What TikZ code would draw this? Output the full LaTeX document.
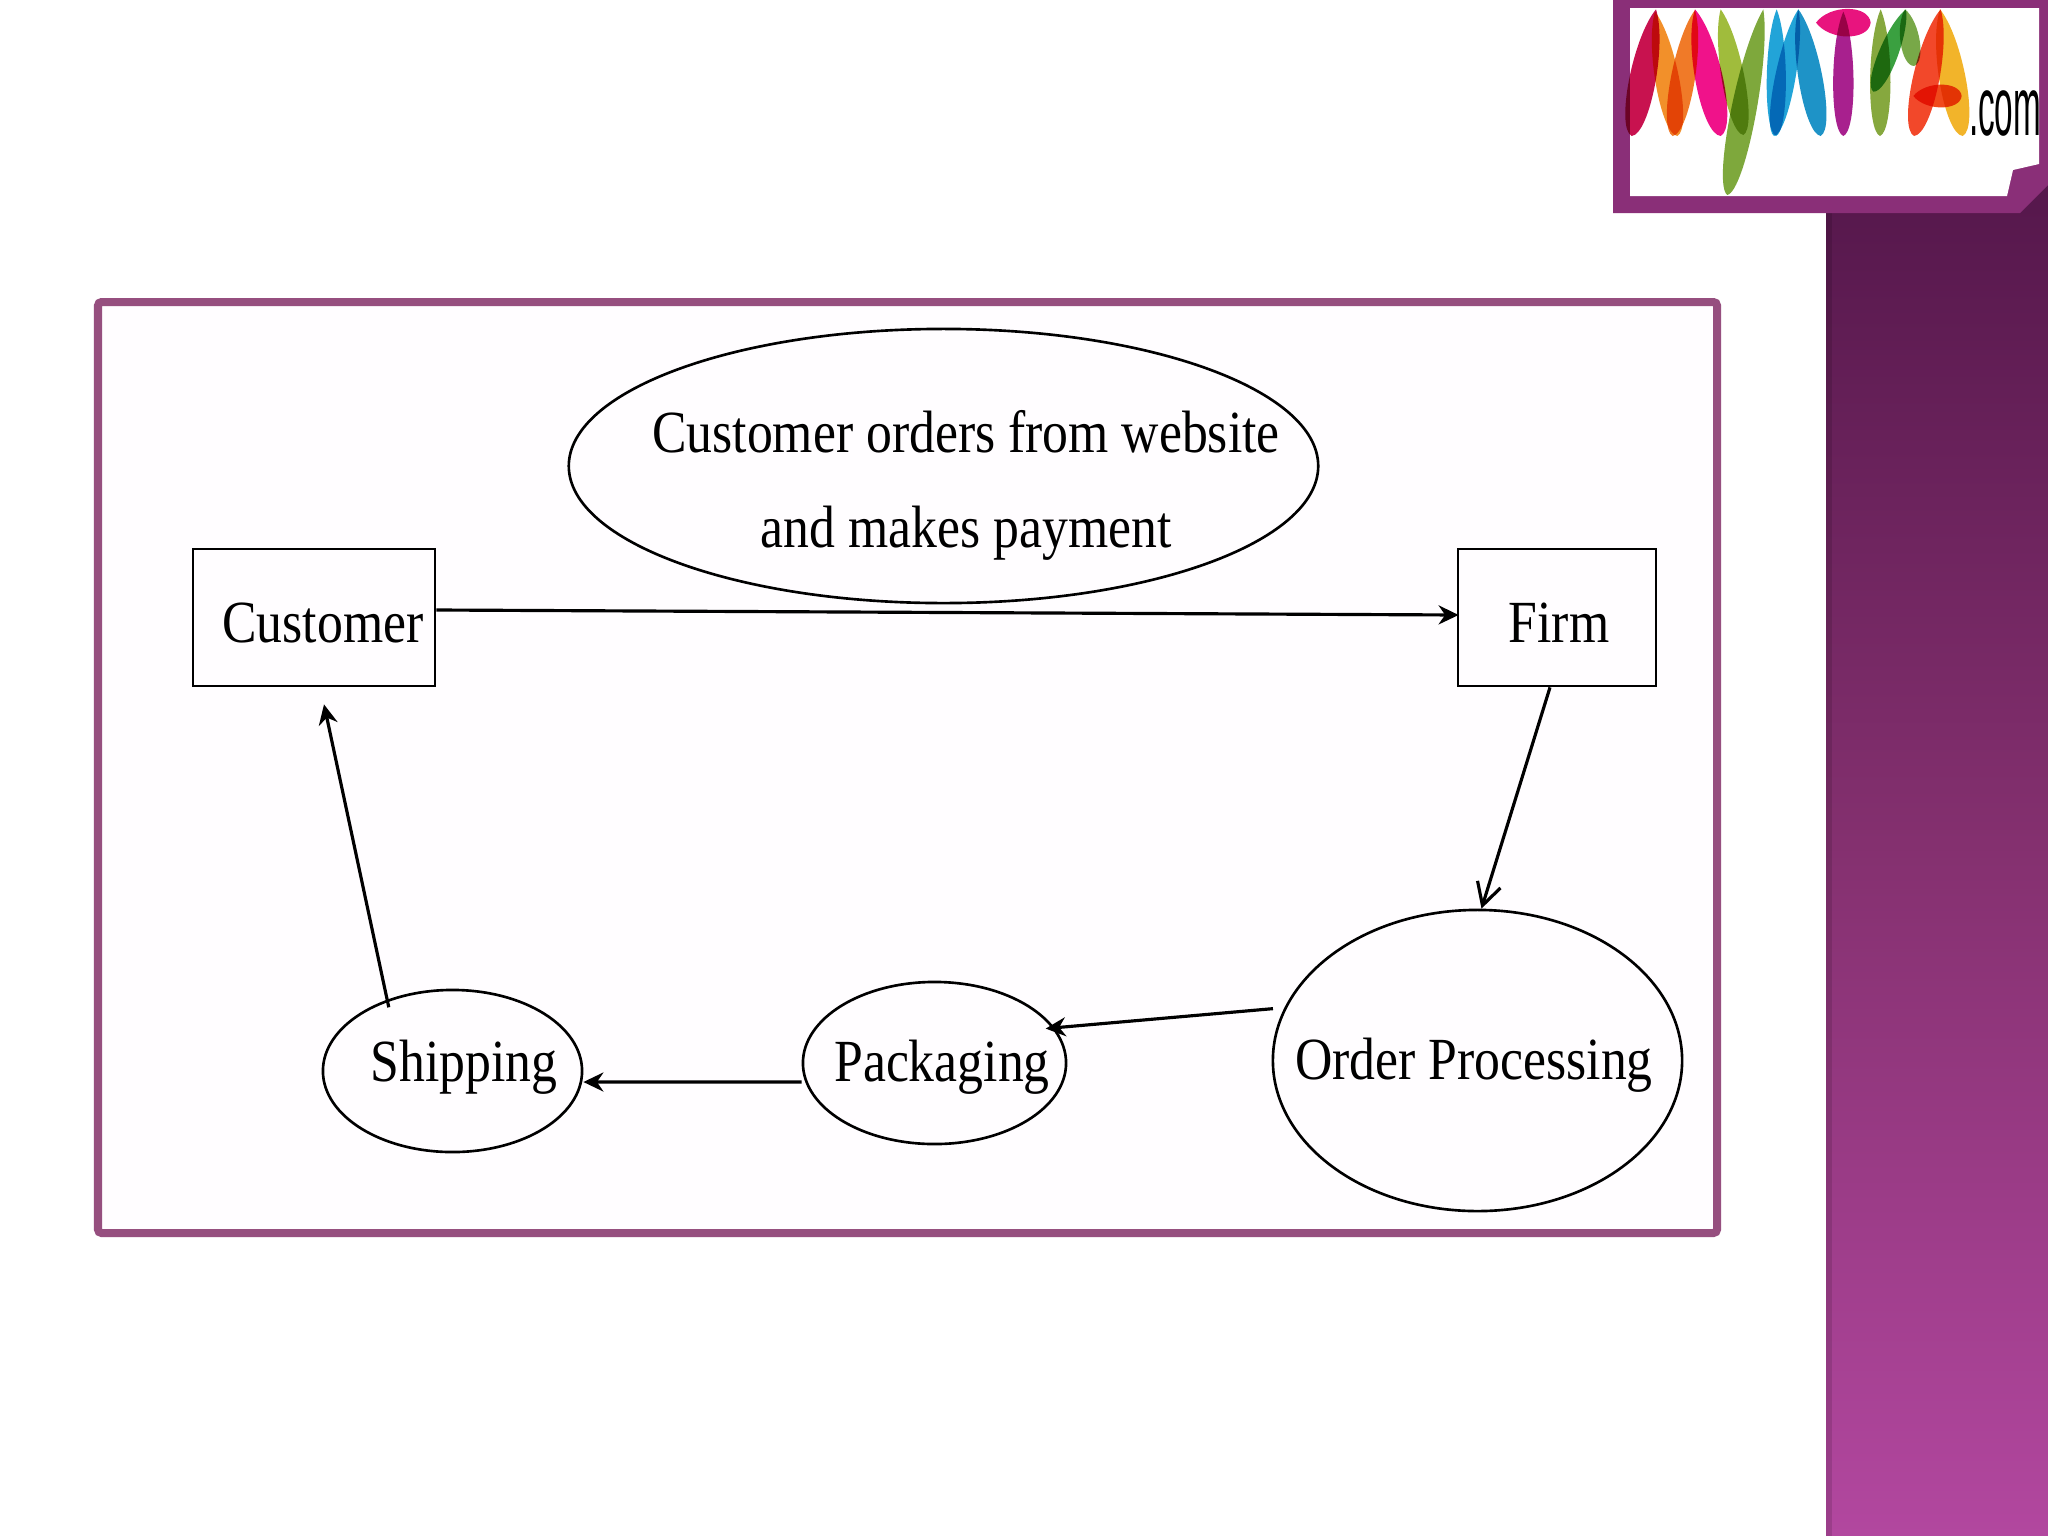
\documentclass[tikz,border=0pt]{standalone}
\usepackage{fontspec}
\setmainfont[FakeStretch=0.865]{Liberation Serif}
\newfontfamily\logofont{Liberation Sans}
\usetikzlibrary{shapes.geometric,arrows.meta,calc}
\definecolor{framec}{HTML}{964F7F}
\definecolor{logoframe}{HTML}{8A2F78}
\definecolor{sidetop}{HTML}{53164A}
\definecolor{sidemid}{HTML}{84306F}
\definecolor{sidebot}{HTML}{B2479F}
\definecolor{panel}{HTML}{FFFDFF}
\definecolor{lcrim}{HTML}{C8124F}
\definecolor{lorange}{HTML}{F2902A}
\definecolor{lorangeb}{HTML}{F07A28}
\definecolor{lmag}{HTML}{F0128A}
\definecolor{lgreena}{HTML}{A0BC3C}
\definecolor{lgreenb}{HTML}{7EA83C}
\definecolor{lblue}{HTML}{22A4D8}
\definecolor{lblueb}{HTML}{1C8CC0}
\definecolor{lpink}{HTML}{E8147E}
\definecolor{lpurple}{HTML}{A8208E}
\definecolor{lgreenc}{HTML}{86A83E}
\definecolor{lgreend}{HTML}{3AA040}
\definecolor{lgreene}{HTML}{78A848}
\definecolor{lred}{HTML}{F2482A}
\definecolor{lyel}{HTML}{F2B42A}
\definecolor{lbar}{HTML}{F04A1C}
\newcommand{\petal}[6]{%
  \pgfmathsetmacro{\pmx}{(#1+#3)/2}\pgfmathsetmacro{\pmy}{(#2+#4)/2}%
  \pgfmathsetmacro{\pang}{atan2(-(#4-#2),#3-#1)}%
  \pgfmathsetmacro{\plen}{veclen(#3-#1,#4-#2)/2}%
  \pgfmathsetmacro{\pwid}{1.2*#5}%
  \begin{scope}[shift={(\pmx,\pmy)},rotate=\pang]
    \fill[#6,blend mode=multiply] (-\plen,0)
      .. controls (-0.5*\plen,\pwid) and (0.92*\plen,\pwid) .. (\plen,0)
      .. controls (0.92*\plen,-\pwid) and (-0.5*\plen,-\pwid) .. cycle;
  \end{scope}}
\tikzset{
  shapeline/.style={draw=black,line width=0.75pt,fill=panel,inner sep=0pt},
  boxnode/.style={shapeline,rectangle},
  ovalnode/.style={shapeline,ellipse},
  txt/.style={font=\fontsize{17}{27}\selectfont,align=center,text=black,inner sep=0pt},
  flow/.style={line width=0.9pt,-{Stealth[length=0.2cm,width=0.19cm]}},
  openflow/.style={line width=0.9pt,-{Straight Barb[length=0.22cm,width=0.24cm]}}
}
\begin{document}
\begin{tikzpicture}[x=0.01cm,y=-0.01cm]
\useasboundingbox (0,0) rectangle (2048,1536);
\fill[white] (0,0) rectangle (2048,1536);
% sidebar
\fill[top color=sidetop,bottom color=sidebot,middle color=sidemid] (1826,150) rectangle (2048,1536);
\fill[black,fill opacity=.12] (1826,150) rectangle (1832,1536);
% logo frame
\fill[logoframe] (1613,0) -- (2048,0) -- (2048,185) -- (2020,213) -- (1613,213) -- cycle;
\fill[white] (1630,8) -- (2039,8) -- (2039,164) -- (2013,170) -- (2007,196) -- (1630,196) -- cycle;
\begin{scope}[shift={(1600,0)},x=0.01cm/3,y=-0.01cm/3]
  \petal{168}{28}{95}{408}{44}{lcrim}
  \petal{165}{35}{232}{408}{40}{lorange}
  \petal{285}{30}{218}{408}{40}{lorangeb}
  \petal{285}{28}{362}{408}{46}{lmag}
  \petal{362}{28}{430}{405}{38}{lgreena}
  \petal{490}{28}{382}{585}{42}{lgreenb}
  \petal{530}{28}{528}{408}{32}{lblue}
  \petal{595}{28}{522}{408}{34}{lblue}
  \petal{595}{28}{662}{408}{40}{lblueb!70!lblue}
  \petal{648}{68}{812}{68}{46}{lpink}
  \petal{730}{35}{730}{408}{34}{lpurple}
  \petal{842}{28}{840}{408}{34}{lgreenc}
  \petal{918}{28}{820}{275}{32}{lgreend}
  \petal{915}{28}{942}{198}{32}{lgreene}
  \petal{1022}{28}{942}{408}{44}{lred}
  \petal{1020}{28}{1088}{408}{44}{lyel}
  \petal{940}{288}{1085}{288}{38}{lbar}
  \node[anchor=base west,inner sep=0pt,font=\logofont\fontsize{23.7}{24}\selectfont] (dotcom) at (1105,405) {\scalebox{.4}[1]{.com}};
\end{scope}
% main panel
\draw[framec,line width=8*0.2845pt,fill=panel,rounded corners=1pt] (98,302) rectangle (1717,1233);
% nodes
\node[ovalnode,minimum width=7.49cm,minimum height=2.74cm,label={[txt,xshift=0.225cm,yshift=-0.19cm]center:Customer orders from website\\and makes payment}] (orders) at (943.5,466) {};
\node[boxnode,minimum width=2.42cm,minimum height=1.37cm,label={[txt,xshift=0.09cm,yshift=-0.05cm]center:Customer}] (cust) at (314,617.5) {};
\node[boxnode,minimum width=1.98cm,minimum height=1.37cm,label={[txt,xshift=0.02cm,yshift=-0.05cm]center:Firm}] (firm) at (1557,617.5) {};
\node[ovalnode,minimum width=4.09cm,minimum height=3.01cm,label={[txt,xshift=-0.035cm,yshift=-0.05cm]center:Order Processing}] (order) at (1477.5,1060.5) {};
\node[ovalnode,minimum width=2.63cm,minimum height=1.62cm,label={[txt,xshift=0.075cm,yshift=-0.04cm]center:Packaging}] (pack) at (934.5,1063) {};
\node[ovalnode,minimum width=2.59cm,minimum height=1.62cm,label={[txt,xshift=0.115cm,yshift=0.04cm]center:Shipping}] (ship) at (452.5,1071) {};
% connectors
\draw[flow] ([yshift=0.075cm]cust.east) -- ([xshift=0.02cm,yshift=0.025cm]firm.west);
\draw[openflow] ([xshift=-0.07cm]firm.south) -- ([xshift=0.04cm]order.north);
\draw[flow] ([xshift=-0.11cm]order.165) -- ([xshift=-0.08cm,yshift=-0.02cm]pack.17);
\draw[flow] ([yshift=-0.19cm]pack.west) -- ([yshift=-0.11cm]ship.east);
\draw[flow] ([shift={(0.06cm,-0.06cm)}]ship.135) -- ([shift={(0.10cm,-0.17cm)}]cust.south);
\end{tikzpicture}
\end{document}
